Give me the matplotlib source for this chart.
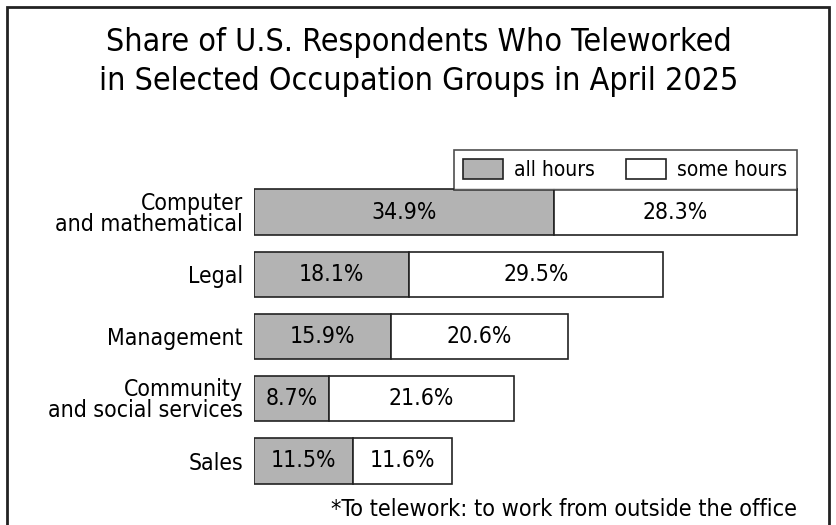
import matplotlib.pyplot as plt
from matplotlib.patches import Rectangle

# Data
categories = ["Computer\nand mathematical", "Legal", "Management",
              "Community\nand social services", "Sales"]
all_hours = [34.9, 18.1, 15.9, 8.7, 11.5]
some_hours = [28.3, 29.5, 20.6, 21.6, 11.6]
series_names = ["all hours", "some hours"]

GRAY = "#b3b3b3"
plt.rcParams["font.family"] = ["DejaVu Sans"]
plt.rcParams["font.stretch"] = "condensed"

W, H = 837, 525
fig = plt.figure(figsize=(W / 100, H / 100), dpi=100)

# outer frame
fig.patches.append(Rectangle((7 / W, -0.05), (829 - 7) / W, (H - 7) / H + 0.05,
                             transform=fig.transFigure, fill=False,
                             edgecolor="#222222", linewidth=2))

fig.text(0.5, 1 - 62 / H,
         "Share of U.S. Respondents Who Teleworked\nin Selected Occupation Groups in April 2025",
         ha="center", va="center", fontsize=23, linespacing=1.3,
         fontstretch="condensed")

# axes: bars area (x=0 at px 254, 8.59 px per %)
x0, px_per = 254, 8.59
ax_right = 830
ax = fig.add_axes([x0 / W, 1 - 492 / H, (ax_right - x0) / W, (492 - 181) / H])
ax.set_xlim(0, (ax_right - x0) / px_per)
n = len(categories)
ax.set_ylim(n - 0.5, -0.5)

ypos = list(range(n))
ax.barh(ypos, all_hours, height=0.73, color=GRAY, edgecolor="#222222", linewidth=1.2)
ax.barh(ypos, some_hours, left=all_hours, height=0.73, color="white",
        edgecolor="#222222", linewidth=1.2)

for y, a, s in zip(ypos, all_hours, some_hours):
    ax.text(a / 2, y, f"{a}%", ha="center", va="center", fontsize=16.5)
    ax.text(a + s / 2, y, f"{s}%", ha="center", va="center", fontsize=16.5)

ax.set_yticks(ypos)
ax.set_yticklabels(categories, fontsize=16.5, linespacing=0.9)
ax.tick_params(axis="y", length=0, pad=8)
ax.set_xticks([])
for sp in ax.spines.values():
    sp.set_visible(False)

# legend
leg = ax.legend(series_names, loc="upper right", bbox_to_anchor=(797 / W, 1 - 150 / H),
                bbox_transform=fig.transFigure, ncol=2, frameon=True, fancybox=False,
                prop={"size": 15, "stretch": "condensed"}, handlelength=1.9,
                handleheight=1.1, columnspacing=1.5, handletextpad=0.55,
                borderpad=0.45, borderaxespad=0)
leg.get_frame().set_edgecolor("#222222")
leg.get_frame().set_linewidth(1.2)

fig.text(797 / W, 1 - 510 / H, "*To telework: to work from outside the office",
         ha="right", va="center", fontsize=16.8)

fig.savefig("out.png", dpi=100)
